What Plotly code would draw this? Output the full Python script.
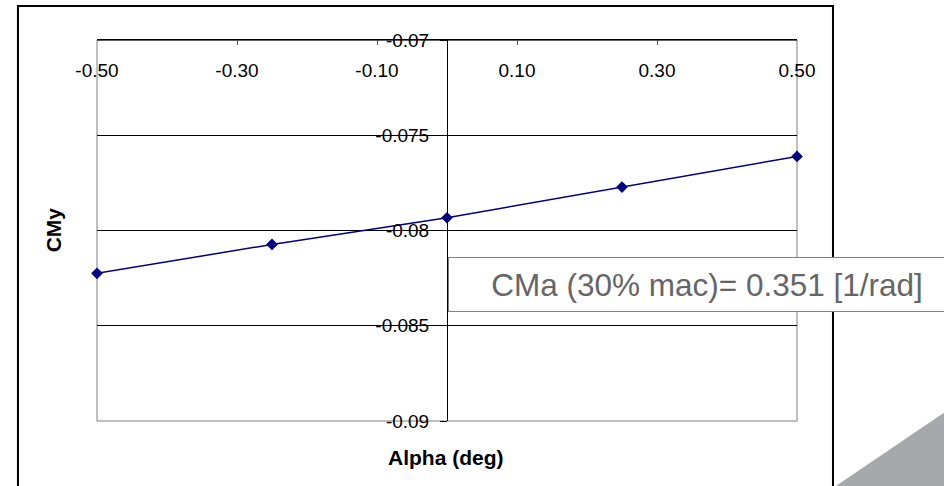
import plotly.graph_objects as go

# Data
alpha_deg = [-0.50, -0.25, 0.00, 0.25, 0.50]
cmy = [-0.08225, -0.08073, -0.07933, -0.07772, -0.07611]

x_tick_vals = [-0.5, -0.3, -0.1, 0.1, 0.3, 0.5]
x_tick_text = ["-0.50", "-0.30", "-0.10", "0.10", "0.30", "0.50"]
y_tick_vals = [-0.09, -0.085, -0.08, -0.075, -0.07]
y_tick_text = ["-0.09", "-0.085", "-0.08", "-0.075", "-0.07"]

x_title = "Alpha (deg)"
y_title = "CMy"
note_text = "CMa (30% mac)= 0.351 [1/rad]"

FONT = "Liberation Sans, Arial, sans-serif"
NAVY = "#000080"

fig = go.Figure()
fig.add_trace(go.Scatter(
    x=alpha_deg, y=cmy, mode="lines+markers",
    line=dict(color=NAVY, width=1.5),
    marker=dict(symbol="diamond", size=9, color=NAVY),
    cliponaxis=False, showlegend=False,
))

fig.update_layout(
    width=944, height=486,
    margin=dict(l=97, r=147, t=40, b=65, pad=0),
    paper_bgcolor="white", plot_bgcolor="white",
    font=dict(family=FONT, size=19, color="black"),
    xaxis=dict(
        range=[-0.5, 0.5], side="top",
        tickvals=x_tick_vals, ticktext=x_tick_text,
        ticks="inside", ticklen=5, tickcolor="#555555",
        ticklabelposition="inside", ticklabeloverflow="allow",
        ticklabelstandoff=20,
        showline=True, linecolor="black", linewidth=1,
        showgrid=False, zeroline=False,
        tickfont=dict(size=19, color="black"),
    ),
    yaxis=dict(
        range=[-0.09, -0.07], anchor="free", position=0.5, side="left",
        tickvals=y_tick_vals, ticktext=y_tick_text,
        ticks="outside", ticklen=7, tickcolor="black",
        ticklabelposition="outside", ticklabelstandoff=7,
        showline=True, linecolor="black", linewidth=1,
        showgrid=True, gridcolor="black", gridwidth=1,
        zeroline=False,
        tickfont=dict(size=19, color="black"),
    ),
    shapes=[
        # plot-area border (gray)
        dict(type="rect", xref="paper", yref="paper", x0=0, x1=1, y0=0, y1=1,
             line=dict(color="#808080", width=1), fillcolor="rgba(0,0,0,0)",
             layer="between"),
        # top border (black)
        dict(type="line", xref="paper", yref="paper", x0=0, x1=1, y0=1, y1=1,
             line=dict(color="black", width=1), layer="between"),
        # outer chart frame
        dict(type="rect", xref="paper", yref="paper",
             x0=-0.1129, x1=1.0514, y0=-0.19, y1=1.089,
             line=dict(color="black", width=2), fillcolor="rgba(0,0,0,0)",
             layer="above"),
        # gray decorative triangle
        dict(type="path", xref="paper", yref="paper",
             path="M 1.0471 -0.1811 L 1.2329 0.0499 L 1.2329 -0.1811 Z",
             line=dict(width=0), fillcolor="#a7a8ab", layer="above"),
    ],
    annotations=[
        dict(text=f"<b>{x_title}</b>", xref="paper", yref="paper",
             x=0.4986, y=-0.0945, xanchor="center", yanchor="middle",
             showarrow=False, font=dict(size=21, color="black", family=FONT)),
        dict(text=f"<b>{y_title}</b>", xref="paper", yref="paper",
             x=-0.0629, y=0.503, xanchor="center", yanchor="middle",
             textangle=-90, showarrow=False,
             font=dict(size=21, color="black", family=FONT)),
        dict(text=note_text, xref="paper", yref="paper",
             x=0.5014, y=0.3583, xanchor="left", yanchor="middle",
             width=516, height=53, align="center", valign="middle",
             bgcolor="white", bordercolor="#808080", borderwidth=1, borderpad=0,
             showarrow=False, font=dict(size=31.5, color="#666666", family=FONT)),
    ],
)

fig.write_html("out.html")
